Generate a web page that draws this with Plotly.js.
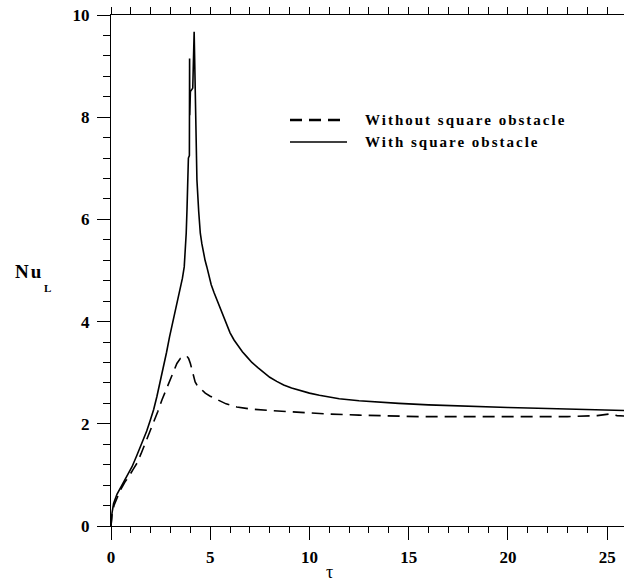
<!DOCTYPE html>
<html>
<head>
<meta charset="utf-8">
<script src="https://cdn.plot.ly/plotly-3.0.1.min.js"></script>
<style>
html,body{margin:0;padding:0;background:#fff;}
#chart{width:625px;height:583px;}
text.annotation-text{letter-spacing:2px;}
</style>
</head>
<body>
<div id="chart"></div>
<script>
// Without square obstacle (dashed)
const tauWithout = [0, 0.05, 0.15, 0.3, 0.47, 0.7, 0.89, 1.1, 1.31, 1.52, 1.73, 1.95, 2.15, 2.36, 2.57, 2.78, 2.99, 3.15, 3.32, 3.5, 3.65, 3.74, 3.83, 3.91, 4.0, 4.08, 4.16, 4.24, 4.33, 4.5, 4.75, 5.0, 5.34, 5.8, 6.34, 7.0, 8.0, 9.5, 11, 12.5, 14, 15.5, 17, 19, 21, 23, 24.5, 25.1, 25.5, 26];
const nuWithout  = [0, 0.22, 0.4, 0.55, 0.70, 0.86, 0.96, 1.1, 1.23, 1.42, 1.62, 1.82, 2.01, 2.24, 2.47, 2.66, 2.86, 3.02, 3.18, 3.28, 3.32, 3.33, 3.32, 3.28, 3.18, 3.05, 2.92, 2.82, 2.76, 2.70, 2.6, 2.54, 2.47, 2.39, 2.33, 2.29, 2.26, 2.22, 2.19, 2.17, 2.15, 2.14, 2.14, 2.14, 2.14, 2.14, 2.16, 2.19, 2.16, 2.15];

// With square obstacle (solid)
const tauWith = [0, 0.05, 0.13, 0.3, 0.47, 0.75, 1.06, 1.3, 1.56, 1.8, 1.98, 2.15, 2.31, 2.5, 2.65, 2.8, 2.95, 3.15, 3.3, 3.45, 3.6, 3.69, 3.75, 3.79, 3.83, 3.86, 3.9, 3.95, 3.96, 3.97, 4.0, 4.12, 4.19, 4.26, 4.33, 4.42, 4.5, 4.58, 4.65, 4.74, 4.83, 4.94, 5.05, 5.2, 5.34, 5.5, 5.65, 5.82, 6.0, 6.2, 6.4, 6.62, 6.85, 7.1, 7.4, 7.7, 8.0, 8.35, 8.7, 9.1, 9.5, 10.0, 10.5, 11.0, 11.5, 12.5, 13.5, 14.5, 16, 18, 20, 22, 24, 26];
const nuWith  = [0, 0.25, 0.44, 0.62, 0.74, 0.95, 1.16, 1.38, 1.62, 1.86, 2.07, 2.28, 2.53, 2.85, 3.12, 3.4, 3.7, 4.06, 4.3, 4.55, 4.85, 5.07, 5.4, 5.73, 6.2, 6.71, 7.2, 7.25, 9.15, 8.04, 8.5, 8.57, 9.67, 7.9, 6.77, 6.15, 5.73, 5.52, 5.35, 5.2, 5.07, 4.89, 4.72, 4.56, 4.42, 4.25, 4.1, 3.93, 3.78, 3.64, 3.52, 3.41, 3.31, 3.2, 3.1, 3.0, 2.91, 2.83, 2.76, 2.7, 2.65, 2.6, 2.56, 2.52, 2.49, 2.45, 2.42, 2.40, 2.37, 2.34, 2.32, 2.30, 2.28, 2.26];

const seriesNames = ['Without square obstacle', 'With square obstacle'];
const xTickStep = 5, xMinorStep = 1;
const yTickStep = 2, yMinorStep = 0.4;
const xRange = [0, 25.85], yRange = [0, 10];

const serif = 'Liberation Serif, Times New Roman, serif';

function dummy(xa, ya) {
  return {x: [0], y: [null], xaxis: xa, yaxis: ya, mode: 'lines', showlegend: false, hoverinfo: 'skip'};
}

const traces = [
  {x: tauWithout, y: nuWithout, name: seriesNames[0], mode: 'lines',
   line: {color: '#000', width: 1.6, dash: '12px,7px'}},
  {x: tauWith, y: nuWith, name: seriesNames[1], mode: 'lines',
   line: {color: '#000', width: 1.6}},
  dummy('x2', 'y'), dummy('x3', 'y'), dummy('x4', 'y'), dummy('x', 'y2'), dummy('x', 'y3')
];

const axisFont = {family: serif, size: 17, color: '#000', weight: 'bold'};
const legFont = {family: serif, size: 15, color: '#000', weight: 'bold'};
const bare = {showgrid: false, zeroline: false, showticklabels: false, tickmode: 'linear', tick0: 0,
  ticks: 'outside', tickwidth: 1, tickcolor: '#000', showline: false};

const layout = {
  width: 625, height: 583,
  margin: {l: 111, r: 1, t: 15, b: 57},
  paper_bgcolor: '#fff', plot_bgcolor: '#fff',
  showlegend: false,
  xaxis: {range: xRange, tickmode: 'linear', tick0: 0, dtick: xTickStep,
    showline: true, linecolor: '#000', linewidth: 1, ticks: '',
    showgrid: false, zeroline: false, tickfont: axisFont, ticklabelstandoff: 16},
  xaxis2: Object.assign({}, bare, {range: xRange, overlaying: 'x', side: 'top', anchor: 'y',
    showline: true, linecolor: '#000', linewidth: 1, dtick: xMinorStep, ticklen: 7}),
  xaxis3: Object.assign({}, bare, {range: xRange, overlaying: 'x', side: 'bottom', anchor: 'y',
    dtick: xMinorStep, ticklen: 6}),
  xaxis4: Object.assign({}, bare, {range: xRange, overlaying: 'x', side: 'bottom', anchor: 'y',
    dtick: xTickStep, ticklen: 13, tickwidth: 1.3, tickcolor: '#000'}),
  yaxis: {range: yRange, tickmode: 'linear', tick0: 0, dtick: yTickStep,
    showline: true, linecolor: '#000', linewidth: 1, ticks: '',
    showgrid: false, zeroline: false, tickfont: axisFont, ticklabelstandoff: 17},
  yaxis2: Object.assign({}, bare, {range: yRange, overlaying: 'y', side: 'left', anchor: 'x',
    dtick: yMinorStep, ticklen: 7}),
  yaxis3: Object.assign({}, bare, {range: yRange, overlaying: 'y', side: 'left', anchor: 'x',
    dtick: yTickStep, ticklen: 13, tickwidth: 1.3, tickcolor: '#000'}),
  shapes: [
    {type: 'line', xref: 'paper', yref: 'paper', x0: (290-111)/513, x1: (347-111)/513, y0: (526-120)/511, y1: (526-120)/511,
     line: {color: '#000', width: 2.5, dash: '12px,7px'}},
    {type: 'line', xref: 'paper', yref: 'paper', x0: (290-111)/513, x1: (347-111)/513, y0: (526-142)/511, y1: (526-142)/511,
     line: {color: '#000', width: 1.3}}
  ],
  annotations: [
    {text: seriesNames[0], xref: 'paper', yref: 'paper', x: (363-111)/513, y: (526-120)/511, xanchor: 'left', yanchor: 'middle',
     showarrow: false, font: legFont},
    {text: seriesNames[1], xref: 'paper', yref: 'paper', x: (363-111)/513, y: (526-142)/511, xanchor: 'left', yanchor: 'middle',
     showarrow: false, font: legFont},
    {text: 'Nu', xref: 'paper', yref: 'paper', x: (13-111)/513, y: (526-271)/511, xanchor: 'left', yanchor: 'middle',
     showarrow: false, font: {family: serif, size: 19, color: '#000', weight: 'bold'}},
    {text: 'L', xref: 'paper', yref: 'paper', x: (42-111)/513, y: (526-288)/511, xanchor: 'left', yanchor: 'middle',
     showarrow: false, font: {family: serif, size: 11, color: '#000', weight: 'bold'}},
    {text: 'τ', xref: 'paper', yref: 'paper', x: (330-111)/513, y: (526-572)/511, xanchor: 'center', yanchor: 'middle',
     showarrow: false, font: {family: serif, size: 18, color: '#000'}}
  ]
};

Plotly.newPlot('chart', traces, layout, {displayModeBar: false});
</script>
</body>
</html>
